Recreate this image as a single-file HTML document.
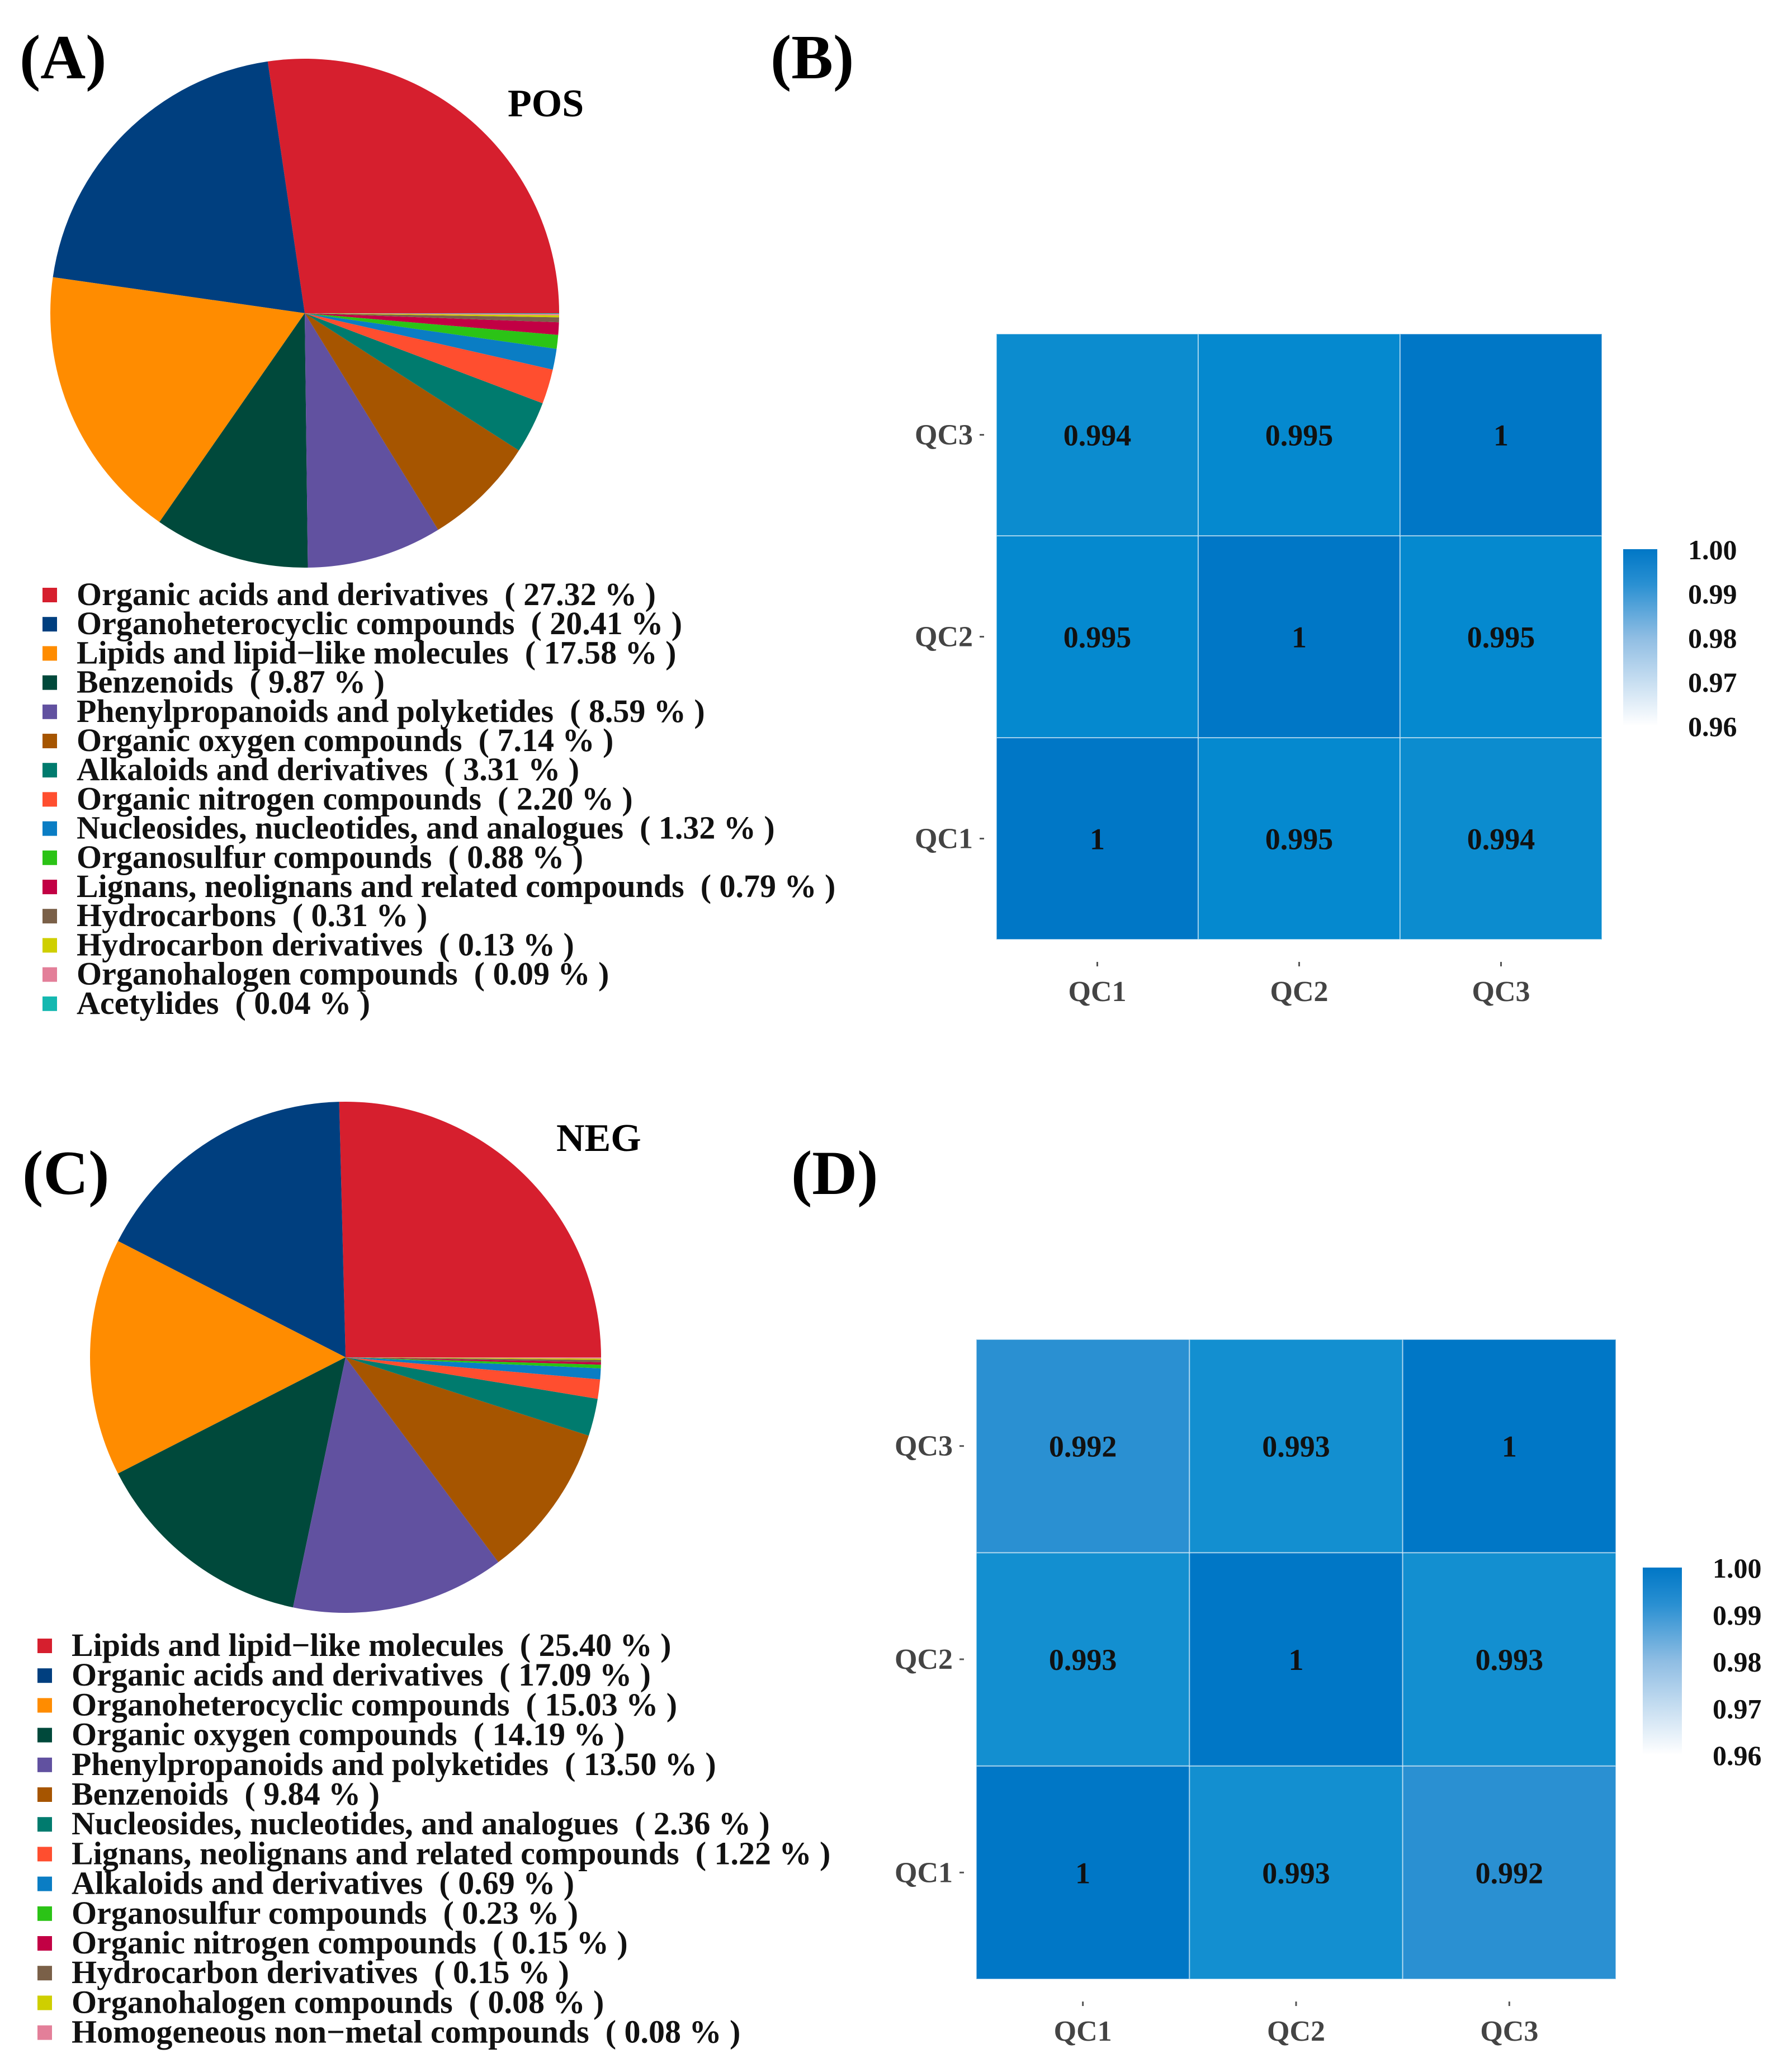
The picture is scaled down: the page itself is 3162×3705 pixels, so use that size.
<!DOCTYPE html>
<html><head><meta charset="utf-8"><style>
html,body{margin:0;padding:0;background:#fff;}
svg{display:block;font-family:"Liberation Serif",serif;font-weight:bold;}
.lg{white-space:pre;}
</style></head><body>
<svg id="fig" width="3162" height="3705" viewBox="0 0 3162 3705" xmlns="http://www.w3.org/2000/svg">
<rect width="3162" height="3705" fill="#fff"/>
<text x="35" y="140" font-size="112">(A)</text>
<text x="1378" y="140" font-size="112">(B)</text>
<text x="40" y="2135" font-size="112">(C)</text>
<text x="1415" y="2135" font-size="112">(D)</text>
<text x="908" y="208" font-size="70">POS</text>
<text x="995" y="2058" font-size="70">NEG</text>
<g id="gA"></g>
<g id="gB"></g>
<g id="gC"></g>
<g id="gD"></g>
<defs>
<linearGradient id="cbar" x1="0" y1="1" x2="0" y2="0">
<stop offset="0" stop-color="#ffffff"/><stop offset="0.5" stop-color="#8fbde3"/><stop offset="0.8" stop-color="#2a90d2"/><stop offset="1" stop-color="#0077c6"/>
</linearGradient>
</defs>
</svg>
<script>
const NS="http://www.w3.org/2000/svg";
const palette=["#d61f2e","#003f7f","#ff8c00","#00493b","#6151a0","#a65500","#007b6e","#ff4e2f","#0a7dc4","#2bc316","#c20044","#7a6048","#cfcf00","#e37f99","#14b8b0"];
const posCategories=["Organic acids and derivatives","Organoheterocyclic compounds","Lipids and lipid\u2212like molecules","Benzenoids","Phenylpropanoids and polyketides","Organic oxygen compounds","Alkaloids and derivatives","Organic nitrogen compounds","Nucleosides, nucleotides, and analogues","Organosulfur compounds","Lignans, neolignans and related compounds","Hydrocarbons","Hydrocarbon derivatives","Organohalogen compounds","Acetylides"];
const posValues=[27.32,20.41,17.58,9.87,8.59,7.14,3.31,2.20,1.32,0.88,0.79,0.31,0.13,0.09,0.04];
const negCategories=["Lipids and lipid\u2212like molecules","Organic acids and derivatives","Organoheterocyclic compounds","Organic oxygen compounds","Phenylpropanoids and polyketides","Benzenoids","Nucleosides, nucleotides, and analogues","Lignans, neolignans and related compounds","Alkaloids and derivatives","Organosulfur compounds","Organic nitrogen compounds","Hydrocarbon derivatives","Organohalogen compounds","Homogeneous non\u2212metal compounds"];
const negValues=[25.40,17.09,15.03,14.19,13.50,9.84,2.36,1.22,0.69,0.23,0.15,0.15,0.08,0.08];
const qcLabels=["QC1","QC2","QC3"];
const posMatrix=[[1,0.995,0.994],[0.995,1,0.995],[0.994,0.995,1]];
const negMatrix=[[1,0.993,0.992],[0.993,1,0.993],[0.992,0.993,1]];
const colorTicks=["0.96","0.97","0.98","0.99","1.00"];

function mk(tag,attrs,parent){const e=document.createElementNS(NS,tag);for(const k in attrs)e.setAttribute(k,attrs[k]);parent.appendChild(e);return e;}

function pie(g,cats,vals,cx,cy,r,lx,ly,step,prefix){
  const total=vals.reduce((a,b)=>a+b,0);
  let a=0;
  vals.forEach((v,i)=>{
    const a0=a, a1=a+v/total*2*Math.PI; a=a1;
    const x0=cx+r*Math.cos(a0), y0=cy-r*Math.sin(a0), x1=cx+r*Math.cos(a1), y1=cy-r*Math.sin(a1);
    const large=(a1-a0)>Math.PI?1:0;
    const p=mk("path",{d:`M${cx},${cy}L${x0},${y0}A${r},${r} 0 ${large} 0 ${x1},${y1}Z`,fill:palette[i]},g);
    
    
    const y=ly+i*step;
    const sq=mk("rect",{x:lx,y:y-14,width:28,height:28,fill:palette[i],stroke:"#fff","stroke-width":2},g);
    
    
    const t=mk("text",{x:lx+62,y:y+18,"font-size":58,fill:"#111","class":"lg"},g);
    t.textContent=cats[i]+"  ( "+v.toFixed(2)+" % )";
    
    
  });
}
function col(v){
  const stops=[[0,[255,255,255]],[0.5,[143,189,227]],[0.8,[42,144,210]],[0.825,[19,143,208]],[0.875,[5,137,207]],[1,[0,119,198]]];
  const t=Math.max(0,Math.min(1,(v-0.96)/0.04));
  for(let i=1;i<stops.length;i++){if(t<=stops[i][0]){const [t0,c0]=stops[i-1],[t1,c1]=stops[i];const f=(t-t0)/(t1-t0);return "rgb("+c0.map((c,k)=>Math.round(c+(c1[k]-c)*f)).join(",")+")";}}
  return "rgb(0,119,198)";
}
function heat(g,m,x0,y0,size,cbx,cby,cbw,cbh,prefix){
  const cs=size/3;
  const xs=j=>x0+j*cs, ys=i=>y0+(2-i)*cs;
  m.forEach((row,i)=>row.forEach((v,j)=>{
    const r=mk("rect",{x:xs(j),y:ys(i),width:cs,height:cs,fill:col(v),stroke:"rgba(255,255,255,0.5)","stroke-width":2},g);
    
    
    const t=mk("text",{x:xs(j)+cs/2,y:ys(i)+cs/2+19,"font-size":54,"text-anchor":"middle",fill:"#111"},g);
    t.textContent=String(v);
    
    
  }));
  qcLabels.forEach((l,i)=>{
    const t=mk("text",{x:x0-42,y:ys(i)+cs/2+17,"font-size":52,"text-anchor":"end",fill:"#444"},g);
    t.textContent=l;
    
    
    mk("line",{x1:x0-30,x2:x0-22,y1:ys(i)+cs/2,y2:ys(i)+cs/2,stroke:"#555","stroke-width":3},g);
    const tx=mk("text",{x:xs(i)+cs/2,y:y0+size+110,"font-size":52,"text-anchor":"middle",fill:"#444"},g);
    tx.textContent=l;
    
    
    mk("line",{x1:xs(i)+cs/2,x2:xs(i)+cs/2,y1:y0+size+40,y2:y0+size+48,stroke:"#555","stroke-width":3},g);
  });
  const cb=mk("rect",{x:cbx,y:cby,width:cbw,height:cbh,fill:"url(#cbar)"},g);
  
  
  colorTicks.forEach((l,k)=>{
    const v=parseFloat(l);
    const y=cby+cbh-(v-0.96)/0.04*cbh;
    const t=mk("text",{x:cbx+cbw+55,y:y+18,"font-size":50,fill:"#111"},g);
    t.textContent=l;
    
    
  });
}
pie(document.getElementById("gA"),posCategories,posValues,545,560,455,75,1064,52.2,"pos");
pie(document.getElementById("gC"),negCategories,negValues,618,2427,457,66,2943,53.2,"neg");
heat(document.getElementById("gB"),posMatrix,1782,597,1083,2903,982,61,316,"pos-heatmap");
heat(document.getElementById("gD"),negMatrix,1746,2395,1144,2938,2803,70,335,"neg-heatmap");
</script>
</body></html>
